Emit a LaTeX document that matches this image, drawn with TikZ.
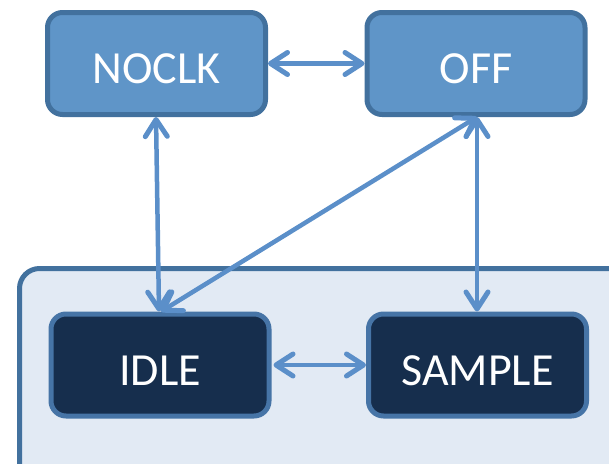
\documentclass[tikz,border=0pt]{standalone}
\usepackage{fontspec}
\setmainfont{Carlito}
\usetikzlibrary{arrows.meta}

\definecolor{upfill}{RGB}{95,149,200}
\definecolor{upedge}{RGB}{66,113,158}
\definecolor{lowfill}{RGB}{22,46,77}
\definecolor{lowedge}{RGB}{70,116,166}
\definecolor{groupfill}{RGB}{226,234,244}
\definecolor{groupedge}{RGB}{66,113,158}
\definecolor{link}{RGB}{91,143,201}

\tikzset{
  state/.style={rectangle, rounded corners=15pt, line width=5pt,
    minimum width=218pt, minimum height=102pt, inner sep=0pt,
    text height=40pt, text depth=0pt,
    text=white, font=\fontsize{46}{50}\selectfont},
  upper/.style={state, draw=upedge, fill=upfill},
  lower/.style={state, draw=lowedge, fill=lowfill},
  barb/.tip={Straight Barb[length=17pt,width=22pt,line width=5pt,line cap=round,round]},
  link/.style={draw=link, line width=4.5pt, barb-barb}
}

\begin{document}
\begin{tikzpicture}[x=1pt, y=-1pt]
  \useasboundingbox (0,0) rectangle (609,463);

  % group frame, running off the right and bottom edges
  \begin{scope}
    \clip (0,0) rectangle (609,463);
    \draw[fill=groupfill, draw=groupedge, line width=5pt, rounded corners=20pt]
      (19.5,268.5) rectangle (660,520);
  \end{scope}

  \node[upper] (noclk) at (156.5,63.5) {NOCLK};
  \node[upper] (off) at (476,63.5) {OFF};
  \node[lower] (idle) at (160,365) {IDLE};
  \node[lower] (sample) at (477.5,365) {SAMPLE};

  \draw[link] (noclk.east) -- (off.west);
  \draw[link] ([xshift=2pt]idle.east) -- (sample.west);
  \draw[link] ([xshift=-0.5pt]noclk.south) -- ([xshift=-1pt]idle.north);
  \draw[link] ([xshift=1pt]off.south) -- ([xshift=-0.5pt]sample.north);
  \draw[link] ([xshift=1pt]off.south) -- ([xshift=1pt]idle.north);
\end{tikzpicture}
\end{document}
